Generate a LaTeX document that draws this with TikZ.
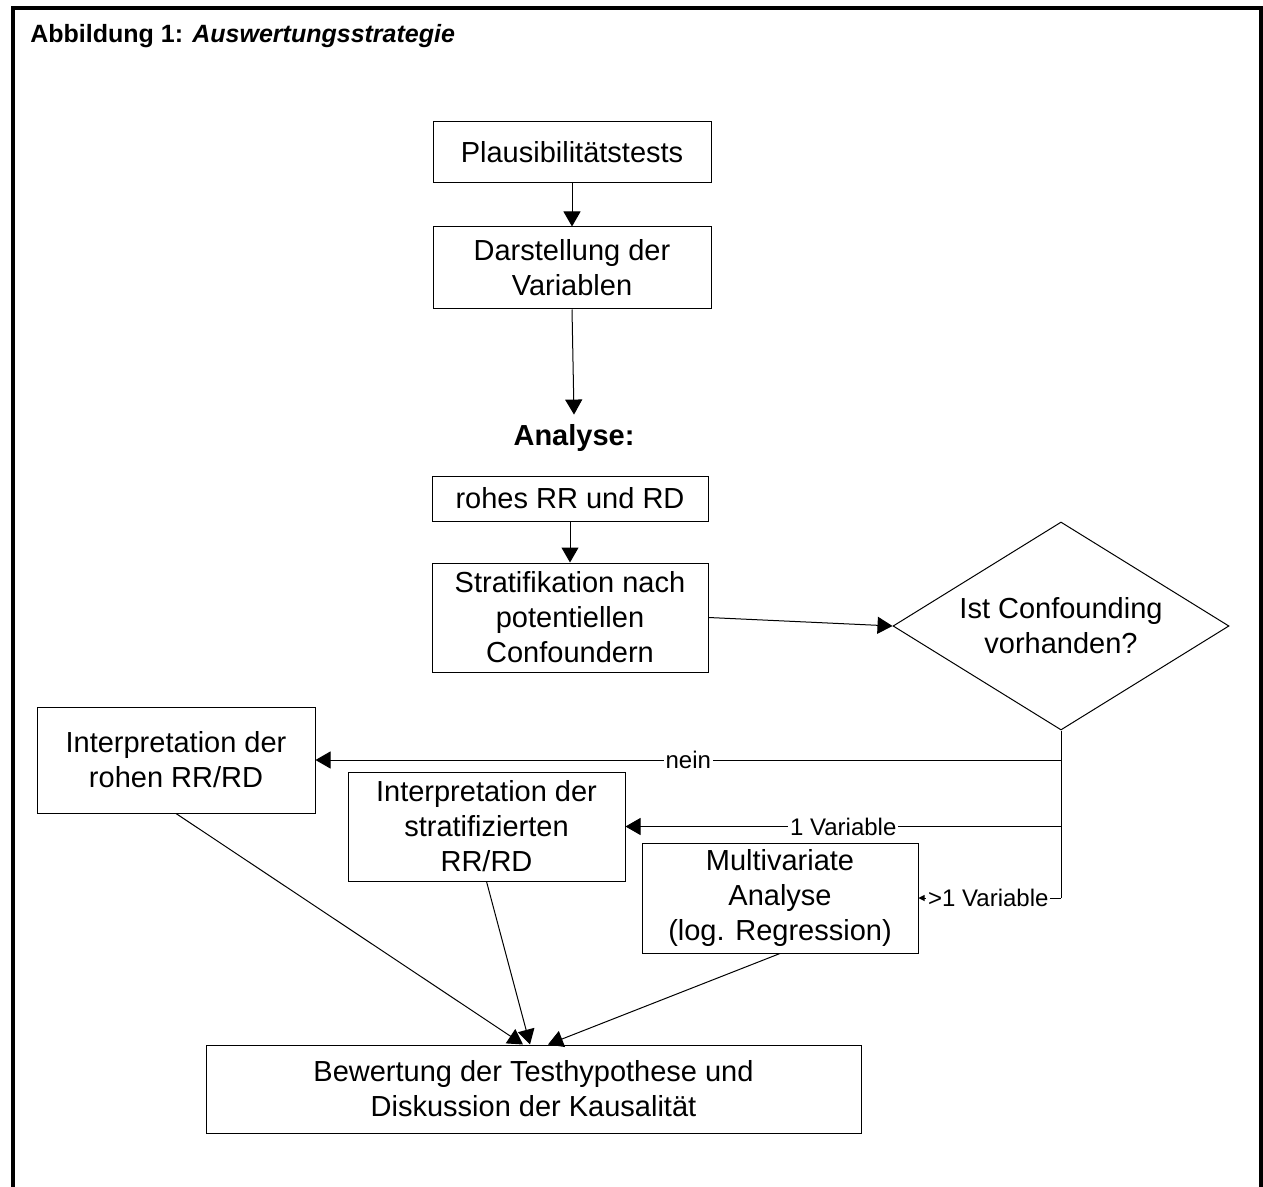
\documentclass[tikz,border=0pt]{standalone}
\usepackage{fontspec}
\setmainfont{Liberation Sans}
\usetikzlibrary{shapes.geometric,arrows.meta}
\begin{document}
\begin{tikzpicture}[x=0.5pt,y=-0.5pt,
  box/.style={draw, line width=0.5pt, inner sep=0pt, align=center,
    font=\fontsize{14.5pt}{17.5pt}\selectfont},
  arr/.style={-{Triangle[length=7.5pt,width=8.5pt]}, line width=0.5pt},
  smallarr/.style={-{Triangle[length=3pt,width=3pt]}, line width=0.5pt},
  lbl/.style={fill=white, inner sep=1pt, font=\fontsize{12pt}{14pt}\selectfont},
  frame/.style={line width=2pt}]
\useasboundingbox (0,0) rectangle (1263,1187);
% frame
\draw[frame] (13,1187) -- (13,8) -- (1261,8) -- (1261,1187);
% title
\node[anchor=base west, inner sep=0pt, font=\fontsize{12.5pt}{15pt}\selectfont\bfseries] (title) at (30,43) {Abbildung 1: \textit{Auswertungsstrategie}};
% nodes
\node[box, minimum width=139pt, minimum height=30.5pt] (plaus) at (572,152.5) {Plausibilitätstests};
\node[box, minimum width=139pt, minimum height=41pt] (darst) at (572,268) {Darstellung der\\Variablen};
\node[anchor=base, inner sep=4.5pt, font=\fontsize{14.5pt}{17.5pt}\selectfont\bfseries] (analyse) at (574,445) {Analyse:};
\node[box, minimum width=138pt, minimum height=22.5pt] (rohes) at (570,498.5) {rohes RR und RD};
\node[box, minimum width=138pt, minimum height=54.5pt] (strat) at (570,617.5) {Stratifikation nach\\potentiellen\\Confoundern};
\node[box, shape=diamond, aspect=1.615, minimum width=168pt, minimum height=104pt] (conf) at (1061,626) {Ist Confounding\\vorhanden?};
\node[box, minimum width=139pt, minimum height=53pt] (rohen) at (176,760) {Interpretation der\\rohen RR/RD};
\node[box, minimum width=138.5pt, minimum height=54.5pt] (strati) at (486.5,826.5) {Interpretation der\\stratifizierten\\RR/RD};
\node[box, minimum width=138pt, minimum height=55pt] (multi) at (780,898) {Multivariate\\Analyse\\(log. Regression)};
\node[box, minimum width=327.5pt, minimum height=44pt] (bew) at (533.5,1089) {Bewertung der Testhypothese und\\Diskussion der Kausalität};
% connectors
\draw[arr] (plaus.south) -- (darst.north);
\draw[arr] (darst.south) -- (analyse.north);
\draw[arr] (rohes.south) -- (strat.north);
\draw[arr] (strat.east) -- (conf.west);
\draw[line width=0.5pt] (conf.south) -- (conf.south |- multi.east);
\draw[arr] (conf.south |- rohen.east) -- (rohen.east) node[lbl, pos=0.5] {nein};
\draw[arr] (conf.south |- strati.east) -- (strati.east) node[lbl, pos=0.5] {1 Variable};
\draw[smallarr] (conf.south |- multi.east) -- (multi.east) node[lbl, pos=0.51] {>1 Variable};
\draw[arr] (rohen.south) -- ([xshift=-5.25pt]bew.north);
\draw[arr] (strati.south) -- ([xshift=-1.75pt]bew.north);
\draw[arr] (multi.south) -- ([xshift=7.25pt]bew.north);
\end{tikzpicture}
\end{document}
